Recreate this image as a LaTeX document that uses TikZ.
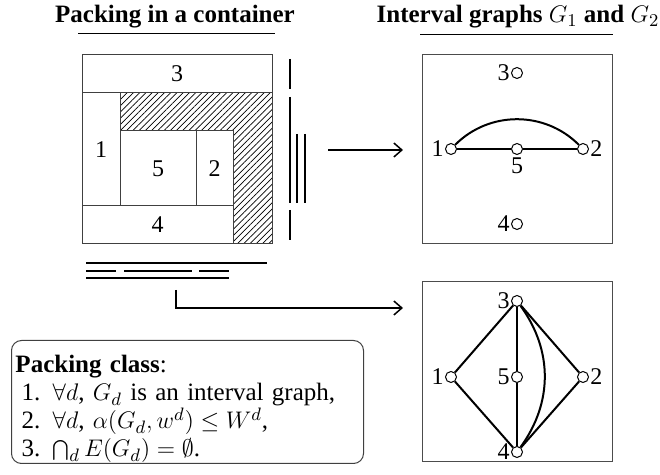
\documentclass[tikz,border=0pt]{standalone}
\usepackage{fontspec}
\setmainfont{Liberation Serif}
\usetikzlibrary{arrows.meta, patterns.meta, positioning}

\begin{document}
\begin{tikzpicture}[
    x=0.5pt, y=-0.5pt,
    font=\fontsize{12}{14}\selectfont,
    title/.style={font=\fontsize{12.5}{14}\selectfont\bfseries, anchor=base},
    item/.style={draw=black!75, line width=0.5pt},
    hatched/.style={item, pattern={Lines[angle=45, distance=2.2pt, line width=0.35pt]}},
    ivl/.style={line width=1pt},
    arrow/.style={-{Straight Barb[length=4pt, width=7pt]}, line width=0.75pt},
    gbox/.style={draw=black!70, line width=0.5pt, minimum width=95pt, inner sep=0pt},
    gnode/.style={circle, draw, fill=white, line width=0.5pt, inner sep=0pt, minimum size=5.5pt},
    edge/.style={line width=1pt},
    lab/.style={inner sep=0.5pt}
]

\useasboundingbox (0,0) rectangle (660,475);

\node[title] (ttlpack) at (175,23) {Packing in a container};
\node[title] (ttlgraph) at (518,23) {Interval graphs $G_1$ and $G_2$};
\draw[line width=0.5pt] (78,34) -- (275,34);
\draw[line width=0.5pt] (420,35) -- (613,35);

\draw[hatched] (120,93) -- (272,93) -- (272,244) -- (233,244) -- (233,131) -- (120,131) -- cycle;
\draw[item] (82,55) rectangle (272,93) node[midway] (it3) {3};
\draw[item] (82,93) rectangle (120,206) node[midway] (it1) {1};
\draw[item] (120,131) rectangle (196,206) node[midway] (it5) {5};
\draw[item] (196,131) rectangle (233,206) node[midway] (it2) {2};
\draw[item] (82,206) rectangle (233,244) node[midway] (it4) {4};
\draw[item] (82,55) rectangle (272,244);

\draw[ivl] (290,59) -- (290,89);
\draw[ivl] (290,97) -- (290,203);
\draw[ivl] (290,210) -- (290,240);
\draw[ivl] (297,134) -- (297,203);
\draw[ivl] (305,134) -- (305,203);

\draw[ivl] (86,263) -- (267,263);
\draw[ivl] (86,271) -- (116,271);
\draw[ivl] (124,271) -- (192,271);
\draw[ivl] (199,271) -- (229,271);
\draw[ivl] (86,278) -- (229,278);

\coordinate (src1) at (328,150);
\coordinate (dst1) at (403,150);
\draw[arrow] (src1) -- (dst1);
\coordinate (src2) at (176,290);
\coordinate (dst2) at (403,308);
\draw[arrow] (src2) |- (dst2);

\node[gbox, minimum height=94.5pt] (g1) at (517,149.5) {};
\node[gnode, label={[lab]left:1}] (a1) at (451,149) {};
\node[gnode, label={[lab]right:2}] (a2) at (583,149) {};
\node[gnode, label={[lab]left:3}] (a3) at (517,73) {};
\node[gnode, label={[lab]left:4}] (a4) at (517,224) {};
\node[gnode, label={[lab, inner sep=1pt]below:5}] (a5) at (517,149) {};
\draw[edge] (a1) -- (a5) -- (a2);
\draw[edge] (a1) to[bend left=45] (a2);

\node[gbox, minimum height=90pt] (g2) at (517,372) {};
\node[gnode, label={[lab]left:1}] (b1) at (451,377) {};
\node[gnode, label={[lab]right:2}] (b2) at (583,377) {};
\node[gnode, label={[lab]left:3}] (b3) at (517,301) {};
\node[gnode, label={[lab]left:4}] (b4) at (517,452) {};
\node[gnode, label={[lab]left:5}] (b5) at (517,377) {};
\draw[edge] (b3) -- (b1) -- (b4);
\draw[edge] (b3) -- (b5) -- (b4);
\draw[edge] (b3) -- (b2) -- (b4);
\draw[edge] (b3) to[bend left=36] (b4);

\node[draw=black!75, line width=0.5pt, rounded corners=5pt, anchor=north west, text width=172pt, minimum height=61.5pt, inner xsep=2pt, inner ysep=0pt, align=left, font=\fontsize{12.5}{14}\selectfont] (cls) at (11,340) {
    \rule{0pt}{16pt}\textbf{Packing class}:\\
    \hspace*{3pt}1. $\forall d$, $G_d$ is an interval graph,\\
    \hspace*{3pt}2. $\forall d$, $\alpha(G_d,w^d)\le W^d$,\\
    \hspace*{3pt}3. $\bigcap_d E(G_d)=\emptyset$.
};

\end{tikzpicture}
\end{document}
